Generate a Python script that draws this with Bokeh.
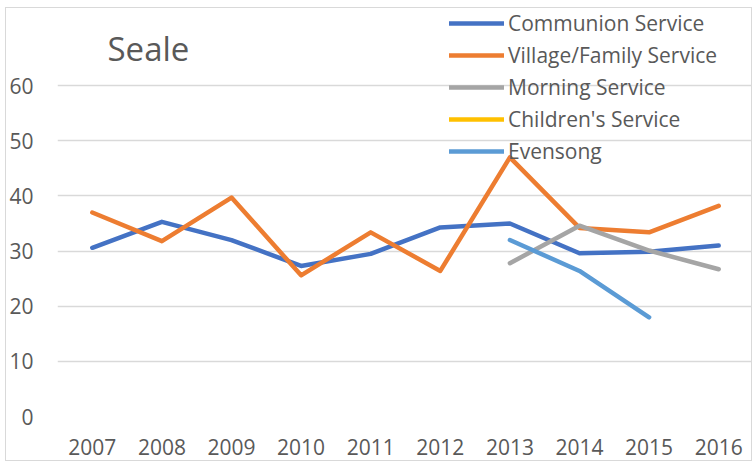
from bokeh.plotting import figure
from bokeh.models import FactorRange, Range1d, FixedTicker, Legend, LegendItem, Label
from bokeh.embed import file_html
from bokeh.resources import INLINE

nan = float("nan")
years = ["2007", "2008", "2009", "2010", "2011", "2012", "2013", "2014", "2015", "2016"]
communion = [30.6, 35.3, 32.0, 27.3, 29.5, 34.3, 35.0, 29.6, 29.9, 31.0]
village = [37.0, 31.8, 39.7, 25.6, 33.4, 26.4, 47.0, 34.2, 33.4, 38.2]
morning_years = ["2013", "2014", "2015", "2016"]
morning = [27.8, 34.6, 30.1, 26.7]
children_years = ["2013", "2014", "2015", "2016"]
children = [nan, nan, nan, nan]
evensong_years = ["2013", "2014", "2015"]
evensong = [32.0, 26.4, 18.0]
y_ticks = [0, 10, 20, 30, 40, 50, 60]

FONT = "Open Sans"
TXT = "#595959"

p = figure(x_range=FactorRange(*years), y_range=Range1d(0, 74.0),
           width=747, height=454, output_backend="svg", toolbar_location=None,
           min_border_left=50, min_border_right=0, min_border_top=0, min_border_bottom=46,
           margin=(7, 0, 0, 5),
           styles={"border": "1px solid #d9d9d9"})
p.outline_line_color = None
p.xgrid.grid_line_color = None
p.ygrid.grid_line_color = "#d9d9d9"
p.ygrid.grid_line_width = 1.3
p.yaxis.ticker = FixedTicker(ticks=y_ticks)
for ax in (p.xaxis[0], p.yaxis[0]):
    ax.axis_line_color = None
    ax.major_tick_line_color = None
    ax.minor_tick_line_color = None
    ax.major_tick_out = 0
    ax.major_label_text_font = FONT
    ax.major_label_text_font_size = "21px"
    ax.major_label_text_color = TXT
p.yaxis.major_label_standoff = 24
p.xaxis.major_label_standoff = 22

specs = [
    ("Communion Service", years, communion, "#4472C4"),
    ("Village/Family Service", years, village, "#ED7D31"),
    ("Morning Service", morning_years, morning, "#A5A5A5"),
    ("Children's Service", children_years, children, "#FFC000"),
    ("Evensong", evensong_years, evensong, "#5B9BD5"),
]
items = []
for name, xs, ys, col in specs:
    r = p.line(xs, ys, line_color=col, line_width=4.5, line_cap="round", line_join="round")
    items.append(LegendItem(label=name, renderers=[r]))

legend = Legend(items=items, location=(392, 251), glyph_width=55, glyph_height=20,
                label_height=20, spacing=4, label_standoff=4, padding=0, margin=0,
                border_line_color=None, background_fill_alpha=0,
                label_text_font=FONT, label_text_font_size="21px", label_text_color=TXT)
p.add_layout(legend, "center")

p.add_layout(Label(x=50, y=368, x_units="screen", y_units="screen", text="Seale",
                   text_font=FONT, text_font_size="33px", text_color=TXT,
                   text_baseline="alphabetic", text_align="left"))

open("out.html", "w").write(file_html(p, INLINE))
